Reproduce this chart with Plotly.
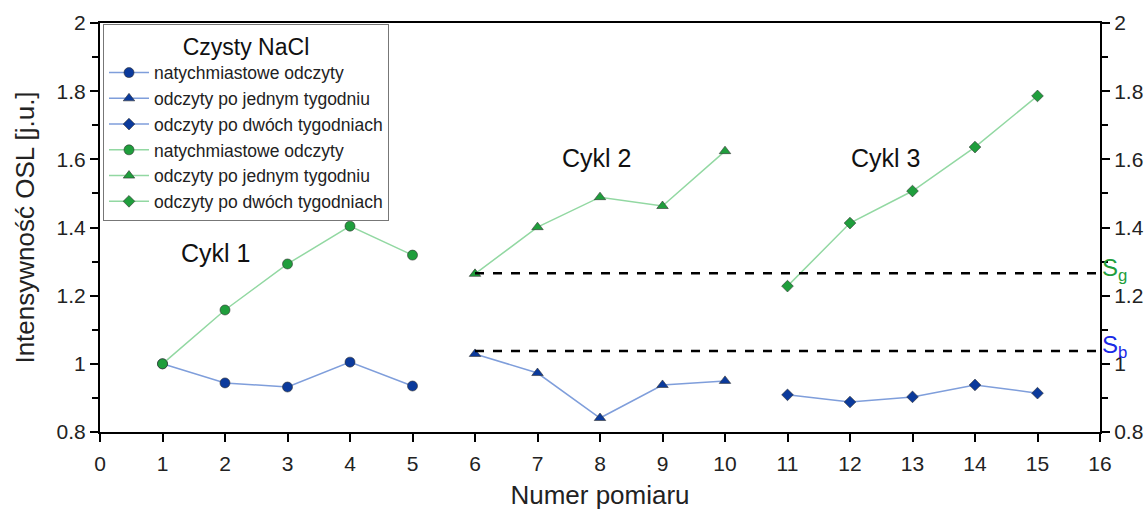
import plotly.graph_objects as go

# Data
x_c1 = [1, 2, 3, 4, 5]
x_c2 = [6, 7, 8, 9, 10]
x_c3 = [11, 12, 13, 14, 15]
blue_c1 = [1.0, 0.944, 0.932, 1.005, 0.935]
blue_c2 = [1.029, 0.973, 0.841, 0.938, 0.950]
blue_c3 = [0.909, 0.888, 0.903, 0.938, 0.914]
green_c1 = [1.0, 1.158, 1.293, 1.404, 1.319]
green_c2 = [1.264, 1.401, 1.489, 1.463, 1.624]
green_c3 = [1.228, 1.413, 1.507, 1.636, 1.786]
s_g = 1.266
s_b = 1.038
ref_x = [6, 16]
names = ["natychmiastowe odczyty", "odczyty po jednym tygodniu", "odczyty po dwóch tygodniach"]
symbols = ["circle", "triangle-up", "diamond"]

BLUE_M = "#0B3A9C"
BLUE_L = "#7F9EDB"
GREEN_M = "#1F9E3C"
GREEN_L = "#92D8A2"
FONT = "Liberation Sans, Arial, sans-serif"

fig = go.Figure()
for xs, ys, nm, sym in zip([x_c1, x_c2, x_c3], [blue_c1, blue_c2, blue_c3], names, symbols):
    fig.add_trace(go.Scatter(x=xs, y=ys, name=nm, mode="lines+markers",
                             line=dict(color=BLUE_L, width=1.5),
                             marker=dict(symbol=sym, color=BLUE_M, size=10 if sym != "diamond" else 9,
                                         line=dict(color="#333", width=0.6))))
for xs, ys, nm, sym in zip([x_c1, x_c2, x_c3], [green_c1, green_c2, green_c3], names, symbols):
    fig.add_trace(go.Scatter(x=xs, y=ys, name=nm, mode="lines+markers",
                             line=dict(color=GREEN_L, width=1.5),
                             marker=dict(symbol=sym, color=GREEN_M, size=10 if sym != "diamond" else 9,
                                         line=dict(color="#333", width=0.6))))

for val in [s_g, s_b]:
    fig.add_trace(go.Scatter(x=ref_x, y=[val, val], mode="lines", showlegend=False,
                             line=dict(color="black", width=2.5, dash="dash"), yaxis="y2",
                             hoverinfo="skip"))

fig.add_annotation(x=1.84, y=1.325, text="Cykl 1", showarrow=False, font=dict(size=25, color="#111"))
fig.add_annotation(x=7.95, y=1.605, text="Cykl 2", showarrow=False, font=dict(size=25, color="#111"))
fig.add_annotation(x=12.56, y=1.605, text="Cykl 3", showarrow=False, font=dict(size=25, color="#111"))
fig.add_annotation(x=16, y=s_g, xanchor="left", xshift=0, yshift=4, text="S<sub>g</sub>", showarrow=False,
                   font=dict(size=24, color=GREEN_M))
fig.add_annotation(x=16, y=s_b, xanchor="left", xshift=0, yshift=4, text="S<sub>b</sub>", showarrow=False,
                   font=dict(size=24, color="#1A2AE6"))

axis_common = dict(showgrid=False, zeroline=False, showline=True, linecolor="black", linewidth=2,
                   ticks="outside", tickcolor="black", tickwidth=2, ticklen=8, automargin=False,
                   tickfont=dict(size=21, color="#222"))

fig.update_layout(
    width=1144, height=510,
    margin=dict(l=100, r=44, t=23, b=78),
    plot_bgcolor="white", paper_bgcolor="white",
    font=dict(family=FONT, color="#222"),
    xaxis=dict(range=[0, 16], dtick=1, mirror=True, ticklabelstandoff=4,
               title=dict(text="Numer pomiaru", font=dict(size=26), standoff=16), **axis_common),
    yaxis=dict(range=[0.8, 2.0], dtick=0.2, tickformat="~g",
               minor=dict(dtick=0.1, ticks="outside", ticklen=6, tickcolor="black", tickwidth=2),
               title=dict(text="Intensywność OSL [j.u.]", font=dict(size=26), standoff=14), **axis_common),
    yaxis2=dict(range=[0.8, 2.0], dtick=0.2, tickformat="~g", overlaying="y", side="right",
                minor=dict(dtick=0.1, ticks="outside", ticklen=6, tickcolor="black", tickwidth=2),
                **axis_common),
    legend=dict(x=0.003, y=0.998, xanchor="left", yanchor="top",
                bgcolor="white", bordercolor="#777", borderwidth=1, itemwidth=40,
                font=dict(size=17.5, color="#222"), tracegroupgap=0,
                title=dict(text="Czysty NaCl", side="top center", font=dict(size=23, color="#111"))),
)

fig.write_html("out.html")
